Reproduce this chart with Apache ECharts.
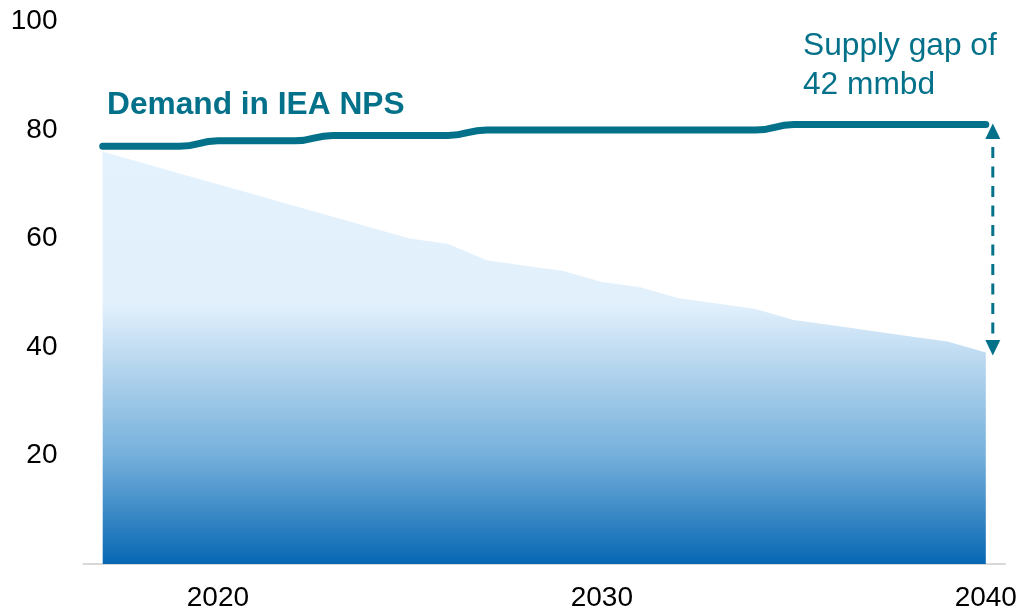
<!DOCTYPE html>
<html>
<head>
<meta charset="utf-8">
<script src="https://cdn.jsdelivr.net/npm/echarts@6/dist/echarts.min.js"></script>
<style>
  html, body { margin: 0; padding: 0; background: #ffffff; }
  #chart { width: 1021px; height: 612px; }
</style>
</head>
<body>
<div id="chart"></div>
<script>
// Oil demand vs. supply from existing fields, million barrels per day
const years = [2017, 2018, 2019, 2020, 2021, 2022, 2023, 2024, 2025, 2026, 2027, 2028,
               2029, 2030, 2031, 2032, 2033, 2034, 2035, 2036, 2037, 2038, 2039, 2040];
const demand = [77, 77, 77, 78, 78, 78, 79, 79, 79, 79, 80, 80,
                80, 80, 80, 80, 80, 80, 81, 81, 81, 81, 81, 81];
const supply = [76, 74, 72, 70, 68, 66, 64, 62, 60, 59, 56, 55,
                54, 52, 51, 49, 48, 47, 45, 44, 43, 42, 41, 39];
const xTickLabels = [2020, 2030, 2040];
const yTickLabels = [20, 40, 60, 80, 100];

const TEAL = '#04718a';
const FONT = '"Liberation Sans", Arial, sans-serif';

const lastIdx = years.length - 1;
const gap = demand[lastIdx] - supply[lastIdx];

const chart = echarts.init(document.getElementById('chart'), null, { renderer: 'canvas' });

chart.setOption({
  animation: false,
  backgroundColor: '#ffffff',
  grid: { left: 83.5, right: 16, top: 21.5, bottom: 48, containLabel: false, outerBoundsMode: 'none' },
  xAxis: {
    type: 'value',
    min: years[0] - 0.5,
    max: years[lastIdx] + 0.5,
    splitLine: { show: false },
    axisTick: { show: false },
    axisLine: { show: true, lineStyle: { color: '#d9d9d9', width: 2 } },
    axisLabel: {
      customValues: xTickLabels,
      formatter: v => String(v),
      color: '#000000',
      fontSize: 28,
      fontFamily: FONT,
      margin: 20
    }
  },
  yAxis: {
    type: 'value',
    min: 0,
    max: 100,
    interval: 20,
    splitLine: { show: false },
    axisTick: { show: false },
    axisLine: { show: false },
    axisLabel: {
      customValues: yTickLabels,
      color: '#000000',
      fontSize: 28,
      fontFamily: FONT,
      margin: 26
    }
  },
  series: [
    {
      name: 'Supply',
      type: 'line',
      data: years.map((y, i) => [y, supply[i]]),
      symbol: 'none',
      lineStyle: { width: 0 },
      z: 1,
      areaStyle: {
        opacity: 1,
        color: new echarts.graphic.LinearGradient(0, 0, 0, 1, [
          { offset: 0, color: '#e4f2fd' },
          { offset: 0.37, color: '#e2f0fc' },
          { offset: 0.74, color: '#74afdb' },
          { offset: 1, color: '#0767b3' }
        ])
      }
    },
    {
      name: 'Demand in IEA NPS',
      type: 'line',
      data: years.map((y, i) => [y, demand[i]]),
      symbol: 'none',
      smooth: 0.5,
      z: 3,
      lineStyle: { color: TEAL, width: 7, cap: 'round', join: 'round' }
    },
    {
      name: 'Gap',
      type: 'custom',
      z: 4,
      data: [[years[lastIdx], supply[lastIdx], demand[lastIdx]]],
      renderItem: function (params, api) {
        const top = api.coord([api.value(0), api.value(2)]);
        const bot = api.coord([api.value(0), api.value(1)]);
        const x = top[0] + 7;
        const tipTop = top[1] - 1;
        const tipBot = bot[1] + 3;
        const h = 15.5, hw = 7.5;
        return {
          type: 'group',
          children: [
            {
              type: 'line',
              shape: { x1: x, y1: tipTop + h + 8, x2: x, y2: tipBot - h },
              style: { stroke: TEAL, lineWidth: 3, lineDash: [11, 8.5] }
            },
            {
              type: 'polygon',
              shape: { points: [[x, tipTop], [x - hw, tipTop + h], [x + hw, tipTop + h]] },
              style: { fill: TEAL }
            },
            {
              type: 'polygon',
              shape: { points: [[x, tipBot], [x - hw, tipBot - h], [x + hw, tipBot - h]] },
              style: { fill: TEAL }
            }
          ]
        };
      }
    }
  ],
  graphic: [
    {
      type: 'text',
      x: 107,
      y: 105,
      style: {
        text: 'Demand in IEA NPS',
        fill: TEAL,
        font: 'bold 31.7px ' + FONT,
        verticalAlign: 'middle'
      }
    },
    {
      type: 'text',
      x: 803,
      y: 66,
      style: {
        text: 'Supply gap of\n' + gap + ' mmbd',
        fill: TEAL,
        font: '31.7px ' + FONT,
        lineHeight: 39,
        verticalAlign: 'middle'
      }
    }
  ]
});
</script>
</body>
</html>
